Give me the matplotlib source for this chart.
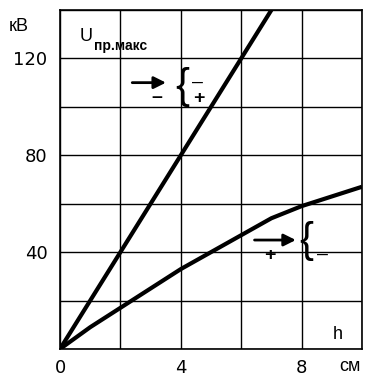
import matplotlib
matplotlib.use("Agg")
import matplotlib.pyplot as plt

plt.rcParams['font.family'] = ['Liberation Sans', 'DejaVu Sans']

# breakdown voltage vs gap h
h_plus = [0, 2, 4, 6, 7]
u_plus = [0, 40, 80, 120, 140]

h_minus = [0, 1, 2, 3, 4, 5, 6, 7, 8, 9, 10]
u_minus = [0, 9, 17, 25, 33, 40, 47, 54, 59, 63, 67]

x_ticks = [0, 4, 8]
x_labels = ['0', '4', '8']
y_ticks = [40, 80, 120]
y_labels = ['40', '80', '120']

fig = plt.figure(figsize=(3.67, 3.78), dpi=100)
ax = fig.add_axes([60 / 367, 29 / 378, 302 / 367, 339 / 378])

ax.plot(h_plus, u_plus, color='black', lw=3, solid_capstyle='butt')
ax.plot(h_minus, u_minus, color='black', lw=3, solid_capstyle='butt')

ax.set_xlim(0, 10)
ax.set_ylim(0, 140)
ax.set_xticks(range(0, 11, 2), minor=True)
ax.set_yticks(range(0, 141, 20), minor=True)
ax.set_xticks(x_ticks)
ax.set_xticklabels(x_labels, fontsize=13, family='DejaVu Sans')
ax.set_yticks(y_ticks)
ax.set_yticklabels(y_labels, fontsize=13, family='DejaVu Sans')
ax.grid(True, which='both', color='black', lw=1)
ax.tick_params(which='both', length=0)
ax.tick_params(axis='y', pad=9)
ax.tick_params(axis='x', pad=7)
for s in ax.spines.values():
    s.set_linewidth(1.2)

# units
ax.text(-1.7, 133, 'кВ', fontsize=13, ha='left', va='center', clip_on=False)
ax.text(9.6, -7.3, 'см', fontsize=13, ha='center', va='center', clip_on=False)
ax.text(9.2, 6, 'h', fontsize=13, ha='center', va='center')
ax.text(0.65, 127, 'U', fontsize=13, ha='left', va='baseline')
ax.text(1.12, 123.5, 'пр.макс', fontsize=10, fontweight='bold', ha='left', va='baseline')

# polarity marks, upper curve
ax.annotate('', xy=(3.6, 110), xytext=(2.3, 110),
            arrowprops=dict(arrowstyle='-|>', color='black', lw=2, mutation_scale=18))
ax.text(3.2, 104, '–', fontsize=14, fontweight='bold', ha='center', va='center')
ax.text(4.05, 108, '{', fontsize=30, ha='center', va='center')
ax.text(4.55, 110, '–', fontsize=14, ha='center', va='center')
ax.text(4.6, 103.5, '+', fontsize=14, fontweight='bold', ha='center', va='center')

# polarity marks, lower curve
ax.annotate('', xy=(7.9, 45), xytext=(6.35, 45),
            arrowprops=dict(arrowstyle='-|>', color='black', lw=2, mutation_scale=18))
ax.text(6.95, 38.5, '+', fontsize=14, fontweight='bold', ha='center', va='center')
ax.text(8.15, 44.5, '{', fontsize=30, ha='center', va='center')
ax.text(8.7, 39, '–', fontsize=14, ha='center', va='center')

fig.savefig('out.png', dpi=100)
